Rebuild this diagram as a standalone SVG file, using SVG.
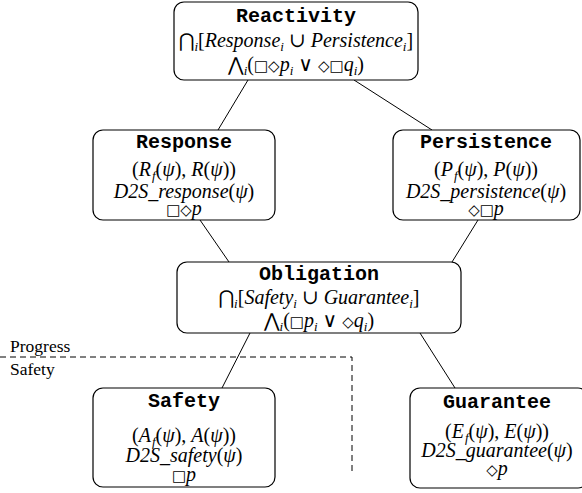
<svg xmlns="http://www.w3.org/2000/svg" width="582" height="493" viewBox="0 0 582 493">
  <style>
    .box { fill: #ffffff; stroke: #000000; stroke-width: 1.2; }
    .edge { stroke: #000000; stroke-width: 1; fill: none; }
    .split { stroke: #000000; stroke-width: 1; fill: none; stroke-dasharray: 6 4; }
    .title { font-family: "Liberation Mono", "Courier New", monospace; font-weight: bold; font-size: 20px; text-anchor: middle; }
    .math { font-family: "Liberation Serif", "DejaVu Serif", serif; font-size: 20px; text-anchor: middle; }
    .it { font-style: italic; }
    .sub { font-size: 13px; font-style: italic; }
    .sym { font-family: "DejaVu Sans", sans-serif; font-size: 15px; }
    .big { font-family: "DejaVu Sans", sans-serif; font-size: 19px; }
    .label { font-family: "Liberation Serif", serif; font-size: 17.5px; }
  </style>

  <!-- connectors between the classes -->
  <g id="connectors">
    <line class="edge" x1="248" y1="80" x2="218" y2="130"/>
    <line class="edge" x1="354" y1="80" x2="432" y2="130"/>
    <line class="edge" x1="200" y1="220" x2="229" y2="262"/>
    <line class="edge" x1="478" y1="220" x2="452" y2="262"/>
    <line class="edge" x1="250" y1="333" x2="222" y2="388"/>
    <line class="edge" x1="420" y1="333" x2="455" y2="388"/>
  </g>

  <!-- progress / safety boundary -->
  <g id="boundary">
    <polyline class="split" points="0,357 352,357 352,475"/>
    <text class="label" x="10" y="352">Progress</text>
    <text class="label" x="10" y="375">Safety</text>
  </g>

  <g id="reactivity">
    <rect class="box" x="174" y="2" width="244" height="78" rx="10"/>
    <text class="title" x="296" y="22">Reactivity</text>
    <text class="math" x="296" y="47"><tspan class="big">⋂</tspan><tspan class="sub" dy="4">i</tspan><tspan dy="-4">[</tspan><tspan class="it">Response</tspan><tspan class="sub" dy="4">i</tspan><tspan dy="-4"> ∪ </tspan><tspan class="it">Persistence</tspan><tspan class="sub" dy="4">i</tspan><tspan dy="-4">]</tspan></text>
    <text class="math" x="296" y="71"><tspan class="big">⋀</tspan><tspan class="sub" dy="4">i</tspan><tspan dy="-4">(</tspan><tspan class="sym">□◇</tspan><tspan class="it">p</tspan><tspan class="sub" dy="4">i</tspan><tspan dy="-4"> ∨ </tspan><tspan class="sym">◇□</tspan><tspan class="it">q</tspan><tspan class="sub" dy="4">i</tspan><tspan dy="-4">)</tspan></text>
  </g>

  <g id="response">
    <rect class="box" x="93" y="130" width="182" height="90" rx="10"/>
    <text class="title" x="184" y="148">Response</text>
    <text class="math" x="184" y="176">(<tspan class="it">R</tspan><tspan class="sub" dy="4" dx="1">f</tspan><tspan dy="-4">(</tspan><tspan class="it">ψ</tspan>), <tspan class="it">R</tspan>(<tspan class="it">ψ</tspan>))</text>
    <text class="math" x="184" y="198"><tspan class="it">D2S_response</tspan>(<tspan class="it">ψ</tspan>)</text>
    <text class="math" x="184" y="215"><tspan class="sym">□◇</tspan><tspan class="it">p</tspan></text>
  </g>

  <g id="persistence">
    <rect class="box" x="393" y="130" width="187" height="90" rx="10"/>
    <text class="title" x="486" y="148">Persistence</text>
    <text class="math" x="486" y="176">(<tspan class="it">P</tspan><tspan class="sub" dy="4" dx="1">f</tspan><tspan dy="-4">(</tspan><tspan class="it">ψ</tspan>), <tspan class="it">P</tspan>(<tspan class="it">ψ</tspan>))</text>
    <text class="math" x="486" y="198"><tspan class="it">D2S_persistence</tspan>(<tspan class="it">ψ</tspan>)</text>
    <text class="math" x="486" y="215"><tspan class="sym">◇□</tspan><tspan class="it">p</tspan></text>
  </g>

  <g id="obligation">
    <rect class="box" x="177" y="262" width="284" height="71" rx="10"/>
    <text class="title" x="319" y="280">Obligation</text>
    <text class="math" x="319" y="304"><tspan class="big">⋂</tspan><tspan class="sub" dy="4">i</tspan><tspan dy="-4">[</tspan><tspan class="it">Safety</tspan><tspan class="sub" dy="4">i</tspan><tspan dy="-4"> ∪ </tspan><tspan class="it">Guarantee</tspan><tspan class="sub" dy="4">i</tspan><tspan dy="-4">]</tspan></text>
    <text class="math" x="319" y="327"><tspan class="big">⋀</tspan><tspan class="sub" dy="4">i</tspan><tspan dy="-4">(</tspan><tspan class="sym">□</tspan><tspan class="it">p</tspan><tspan class="sub" dy="4">i</tspan><tspan dy="-4"> ∨ </tspan><tspan class="sym">◇</tspan><tspan class="it">q</tspan><tspan class="sub" dy="4">i</tspan><tspan dy="-4">)</tspan></text>
  </g>

  <g id="safety">
    <rect class="box" x="93" y="388" width="182" height="99" rx="10"/>
    <text class="title" x="184" y="407">Safety</text>
    <text class="math" x="184" y="442">(<tspan class="it">A</tspan><tspan class="sub" dy="4" dx="1">f</tspan><tspan dy="-4">(</tspan><tspan class="it">ψ</tspan>), <tspan class="it">A</tspan>(<tspan class="it">ψ</tspan>))</text>
    <text class="math" x="184" y="462"><tspan class="it">D2S_safety</tspan>(<tspan class="it">ψ</tspan>)</text>
    <text class="math" x="184" y="481"><tspan class="sym">□</tspan><tspan class="it">p</tspan></text>
  </g>

  <g id="guarantee">
    <rect class="box" x="410" y="388" width="178" height="100" rx="10"/>
    <text class="title" x="497" y="408">Guarantee</text>
    <text class="math" x="497" y="438">(<tspan class="it">E</tspan><tspan class="sub" dy="4" dx="1">f</tspan><tspan dy="-4">(</tspan><tspan class="it">ψ</tspan>), <tspan class="it">E</tspan>(<tspan class="it">ψ</tspan>))</text>
    <text class="math" x="497" y="457"><tspan class="it">D2S_guarantee</tspan>(<tspan class="it">ψ</tspan>)</text>
    <text class="math" x="497" y="475"><tspan class="sym">◇</tspan><tspan class="it">p</tspan></text>
  </g>
</svg>
